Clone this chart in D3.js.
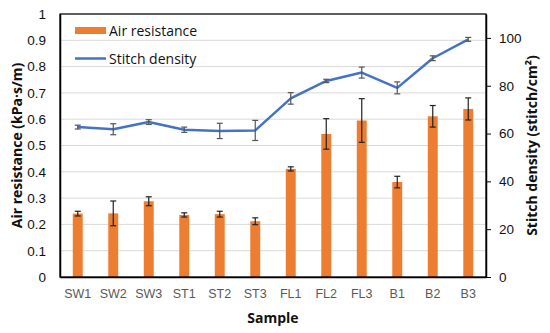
<!DOCTYPE html>
<html>
<head>
<meta charset="utf-8">
<script src="https://cdn.jsdelivr.net/npm/d3@7"></script>
<style>
  body { margin: 0; background: #fff; }
  svg { font-family: "Open Sans", "Noto Sans", sans-serif; }
</style>
</head>
<body>
<svg id="chart"></svg>
<script>
// samples on the x axis
const samples = ['SW1', 'SW2', 'SW3', 'ST1', 'ST2', 'ST3', 'FL1', 'FL2', 'FL3', 'B1', 'B2', 'B3'];
// air resistance (kPa·s/m), bars on the left axis
const airResistance = [0.241, 0.242, 0.288, 0.236, 0.239, 0.212, 0.411, 0.544, 0.595, 0.361, 0.611, 0.639];
const airResistanceErr = [0.009, 0.047, 0.017, 0.008, 0.011, 0.013, 0.008, 0.058, 0.083, 0.022, 0.041, 0.042];
// stitch density (stitch/cm²), line on the right axis
const stitchDensity = [62.7, 61.8, 64.8, 61.6, 61.1, 61.3, 74.7, 82.0, 85.5, 79.1, 91.5, 99.4];
const stitchDensityErr = [0.8, 2.3, 1.0, 1.1, 3.2, 4.2, 2.4, 0.7, 2.3, 2.5, 1.0, 0.8];
const leftTicks = [0, 0.1, 0.2, 0.3, 0.4, 0.5, 0.6, 0.7, 0.8, 0.9, 1];
const rightTicks = [0, 20, 40, 60, 80, 100];

const width = 550, height = 333;
const margin = {top: 14, right: 64, bottom: 56, left: 60};
const w = width - margin.left - margin.right;
const h = height - margin.top - margin.bottom;

const svg = d3.select('#chart').attr('width', width).attr('height', height);
const g = svg.append('g').attr('transform', `translate(${margin.left},${margin.top})`);

const x = d3.scaleBand().domain(samples).range([0, w]).paddingInner(0.72).paddingOuter(0.36);
const yLeft = d3.scaleLinear().domain([0, 1]).range([h, 0]);
const yRight = d3.scaleLinear().domain([0, 110]).range([h, 0]);
const cx = d => x(d) + x.bandwidth() / 2;

// gridlines
g.append('g')
    .selectAll('line')
    .data(leftTicks.slice(1))
    .join('line')
    .attr('x1', 0).attr('x2', w)
    .attr('y1', d => yLeft(d)).attr('y2', d => yLeft(d))
    .attr('stroke', '#d9d9d9').attr('stroke-width', 1);

// bars
g.selectAll('.bar')
    .data(samples)
    .join('rect')
    .attr('class', 'bar')
    .attr('x', d => x(d))
    .attr('width', x.bandwidth())
    .attr('y', (d, i) => yLeft(airResistance[i]))
    .attr('height', (d, i) => h - yLeft(airResistance[i]))
    .attr('fill', '#ed7d31');

function errorBars(vals, errs, scale, color) {
    const eg = g.append('g').attr('stroke', color).attr('stroke-width', 1.2);
    samples.forEach((s, i) => {
        const xc = cx(s);
        const y1 = scale(vals[i] + errs[i]), y2 = scale(vals[i] - errs[i]);
        eg.append('line').attr('x1', xc).attr('x2', xc).attr('y1', y1).attr('y2', y2);
        eg.append('line').attr('x1', xc - 3).attr('x2', xc + 3).attr('y1', y1).attr('y2', y1);
        eg.append('line').attr('x1', xc - 3).attr('x2', xc + 3).attr('y1', y2).attr('y2', y2);
    });
}
errorBars(airResistance, airResistanceErr, yLeft, '#222');

// stitch density line
const line = d3.line()
    .x((d, i) => cx(samples[i]))
    .y(d => yRight(d));
g.append('path')
    .datum(stitchDensity)
    .attr('fill', 'none')
    .attr('stroke', '#4472c4')
    .attr('stroke-width', 2.5)
    .attr('stroke-linejoin', 'round')
    .attr('d', line);
errorBars(stitchDensity, stitchDensityErr, yRight, '#555');

// frame
g.append('rect').attr('width', w).attr('height', h)
    .attr('fill', 'none').attr('stroke', '#000').attr('stroke-width', 1.2);

// left axis
const yAxisLeft = d3.axisLeft(yLeft).tickValues(leftTicks).tickSize(0).tickPadding(14)
    .tickFormat(d => d3.format('~g')(d));
const lg = g.append('g').call(yAxisLeft);
lg.select('.domain').attr('stroke', '#000').attr('stroke-width', 1.5);
lg.selectAll('text').attr('font-size', 13.5).attr('fill', '#111').attr('font-family', 'inherit');

// right axis
const yAxisRight = d3.axisRight(yRight).tickValues(rightTicks).tickSize(5).tickSizeOuter(0).tickPadding(8);
const rg = g.append('g').attr('transform', `translate(${w},0)`).call(yAxisRight);
rg.select('.domain').attr('stroke', '#000').attr('stroke-width', 1.5);
rg.selectAll('line').attr('stroke', '#000');
rg.selectAll('text').attr('font-size', 13.5).attr('fill', '#111').attr('font-family', 'inherit');

// x axis
const xAxis = d3.axisBottom(x).tickSize(0).tickPadding(12);
const xg = g.append('g').attr('transform', `translate(0,${h})`).call(xAxis);
xg.select('.domain').attr('stroke', '#000').attr('stroke-width', 1.5);
xg.selectAll('text').attr('font-size', 12.5).attr('fill', '#595959').attr('font-family', 'inherit');

// axis titles
svg.append('text')
    .attr('transform', `translate(22,${margin.top + h / 2}) rotate(-90)`)
    .attr('text-anchor', 'middle')
    .attr('font-size', 14).attr('font-weight', 'bold').attr('fill', '#111')
    .text('Air resistance (kPa·s/m)');
svg.append('text')
    .attr('transform', `translate(537,${margin.top + h / 2}) rotate(-90)`)
    .attr('text-anchor', 'middle')
    .attr('font-size', 14).attr('font-weight', 'bold').attr('fill', '#111')
    .text('Stitch density (stitch/cm²)');
svg.append('text')
    .attr('x', margin.left + w / 2).attr('y', 323)
    .attr('text-anchor', 'middle')
    .attr('font-size', 14).attr('font-weight', 'bold').attr('fill', '#111')
    .text('Sample');

// legend
const legend = svg.append('g').attr('transform', 'translate(75,0)');
legend.append('rect').attr('x', 0).attr('y', 27).attr('width', 31).attr('height', 7).attr('fill', '#ed7d31');
legend.append('text').attr('x', 34).attr('y', 35.5).attr('font-size', 14).attr('fill', '#111').text('Air resistance');
legend.append('line').attr('x1', 0).attr('x2', 31).attr('y1', 58.5).attr('y2', 58.5)
    .attr('stroke', '#4472c4').attr('stroke-width', 2.5);
legend.append('text').attr('x', 34).attr('y', 63.5).attr('font-size', 14).attr('fill', '#111').text('Stitch density');
</script>
</body>
</html>
